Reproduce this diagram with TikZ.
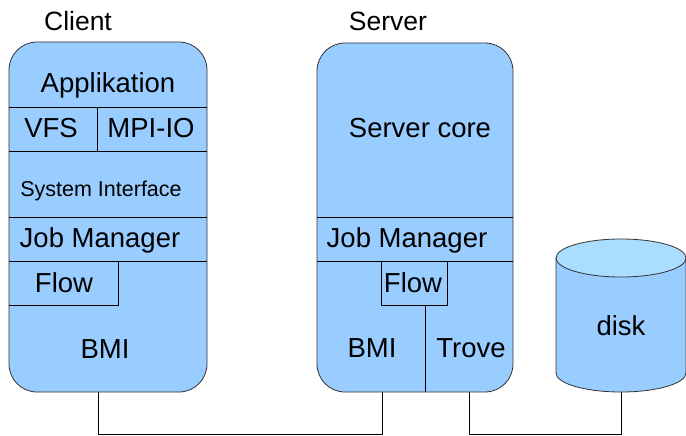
\documentclass[tikz,border=0pt]{standalone}
\usepackage{fontspec}
\setmainfont{Liberation Sans}
\usepackage{xcolor}
\definecolor{pvfs-blau}{HTML}{99CCFF}
\definecolor{pvfs-hellblau}{HTML}{AADDFF}
\definecolor{pvfs-rand}{HTML}{333333}
\tikzset{
    schicht/.style={draw=pvfs-rand, fill=pvfs-blau, line width=0.8pt, rounded corners=28pt, inner sep=0pt},
    trenner/.style={draw=black, line width=0.7pt},
    ueberschrift/.style={inner sep=0pt, font=\fontsize{26.5}{28}\selectfont},
    beschriftung/.style={inner sep=0pt, font=\fontsize{27.5}{29}\selectfont},
    kleinschrift/.style={inner sep=0pt, font=\fontsize{21.5}{23}\selectfont},
    leitung/.style={draw=black, line width=0.7pt}
}
\begin{document}
\begin{tikzpicture}[x=1pt, y=-1pt]
    \useasboundingbox (0,0) rectangle (686,436);

    % Ueberschriften
    \node[ueberschrift] (titel-client) at (78,21) {Client};
    \node[ueberschrift] (titel-server) at (388,21) {Server};

    % Client-Stapel
    \node[schicht, minimum width=198pt, minimum height=350pt] (client) at (108,217) {};
    \draw[trenner] (9,107) -- (207,107);
    \draw[trenner] (97,107) -- (97,151);
    \draw[trenner] (9,151) -- (207,151);
    \draw[trenner] (9,217) -- (207,217);
    \draw[trenner] (9,261) -- (207,261);
    \draw[trenner] (9,305) -- (118,305) -- (118,261);

    \node[beschriftung] (applikation) at (108,85) {Applikation};
    \node[beschriftung] (vfs) at (51,128) {VFS};
    \node[beschriftung] (mpiio) at (151,128) {MPI-IO};
    \node[kleinschrift] (sysint) at (101,191) {System Interface};
    \node[beschriftung] (job-c) at (100,240) {Job Manager};
    \node[beschriftung] (flow-c) at (64,283) {Flow};
    \node[beschriftung] (bmi-c) at (105,349) {BMI};

    % Server-Stapel
    \node[schicht, minimum width=196pt, minimum height=349pt] (server) at (415,217.5) {};
    \draw[trenner] (317,217) -- (513,217);
    \draw[trenner] (317,261) -- (513,261);
    \draw[trenner] (381,261) rectangle (447,305);
    \draw[trenner] (425,305) -- (425,392);

    \node[beschriftung] (core) at (420,128) {Server core};
    \node[beschriftung] (job-s) at (407,240) {Job Manager};
    \node[beschriftung] (flow-s) at (413,283) {Flow};
    \node[beschriftung] (bmi-s) at (372,348) {BMI};
    \node[beschriftung] (trove) at (471,348) {Trove};

    % Platte
    \fill[pvfs-blau] (556,258) -- (556,373) arc[start angle=180, end angle=0, x radius=65, y radius=19] -- (686,258) -- cycle;
    \draw[pvfs-rand, line width=0.8pt] (556,258) -- (556,373) arc[start angle=180, end angle=0, x radius=65, y radius=19] -- (686,258);
    \draw[pvfs-rand, line width=0.8pt, fill=pvfs-hellblau] (621,258) ellipse [x radius=65, y radius=19];
    \node[beschriftung] (disk) at (621,326) {disk};
    \coordinate (disk-unten) at (621,392);

    % Verbindungen
    \draw[leitung] ([xshift=-10pt]client.south) -- ++(0,42) -| ([xshift=-33pt]server.south);
    \draw[leitung] ([xshift=54pt]server.south) -- ++(0,42) -| (disk-unten);
\end{tikzpicture}
\end{document}
